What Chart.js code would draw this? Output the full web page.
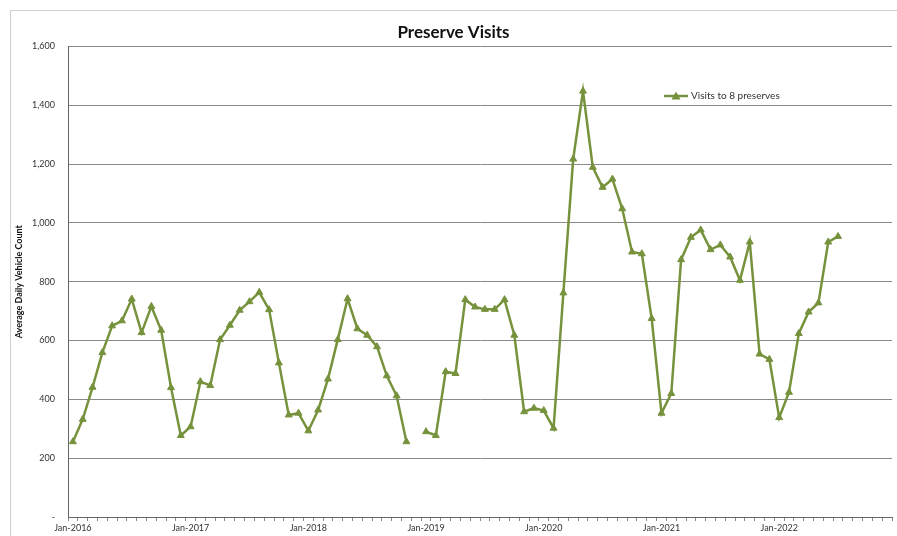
<!DOCTYPE html>
<html>
<head>
<meta charset="utf-8">
<script src="https://cdn.jsdelivr.net/npm/chart.js@4"></script>
<style>
    html, body { margin: 0; padding: 0; background: #fff; }
    #wrap { width: 897px; height: 536px; }
</style>
</head>
<body>
<div id="wrap"><canvas id="myChart" width="897" height="536"></canvas></div>
<script>
const years = [2016, 2017, 2018, 2019, 2020, 2021, 2022];
const monthNames = ["Jan", "Feb", "Mar", "Apr", "May", "Jun", "Jul", "Aug", "Sep", "Oct", "Nov", "Dec"];

// average daily vehicle count, one value per month (null = no data)
const visits2016 = [256, 332, 441, 559, 650, 667, 741, 627, 716, 635, 440, 277];
const visits2017 = [307, 460, 447, 603, 652, 703, 732, 764, 705, 524, 347, 353];
const visits2018 = [293, 364, 469, 603, 742, 640, 618, 579, 480, 412, 256, null];
const visits2019 = [290, 277, 494, 488, 739, 714, 706, 706, 739, 618, 358, 370];
const visits2020 = [362, 302, 762, 1217, 1448, 1189, 1121, 1149, 1048, 901, 895, 675];
const visits2021 = [353, 420, 875, 951, 976, 909, 925, 884, 805, 935, 554, 536];
const visits2022 = [338, 424, 624, 697, 728, 935, 954, null, null, null, null, null];

const yTicks = [0, 200, 400, 600, 800, 1000, 1200, 1400, 1600];

const labels = [];
years.forEach(y => monthNames.forEach(m => labels.push(m + "-" + y)));
const visits = [].concat(visits2016, visits2017, visits2018, visits2019, visits2020, visits2021, visits2022);

const olive = "#76923C";
const font = "Lato, 'Open Sans', sans-serif";

const frame = {
    id: "frame",
    beforeDraw(chart) {
        const c = chart.ctx;
        c.save();
        c.fillStyle = "#fff";
        c.fillRect(0, 0, chart.width, chart.height);
        c.strokeStyle = "#d0d0d0";
        c.lineWidth = 1;
        c.strokeRect(10.5, 10.5, chart.width, chart.height);
        c.restore();
    },
    afterDraw(chart) {
        // legend inside the plot area
        const c = chart.ctx;
        const ds = chart.data.datasets[0];
        const x = 664, y = 96;
        c.save();
        c.strokeStyle = ds.borderColor;
        c.lineWidth = 2.5;
        c.beginPath();
        c.moveTo(x, y);
        c.lineTo(x + 24, y);
        c.stroke();
        c.fillStyle = ds.borderColor;
        c.beginPath();
        c.moveTo(x + 12, y - 4.5);
        c.lineTo(x + 16.5, y + 3.5);
        c.lineTo(x + 7.5, y + 3.5);
        c.closePath();
        c.fill();
        c.fillStyle = "#333";
        c.font = "10px " + font;
        c.textBaseline = "middle";
        c.fillText(ds.label, x + 27, y);
        c.restore();
    },
};

const ctx = document.getElementById("myChart");

new Chart(ctx, {
    type: "line",
    data: {
        labels: labels,
        datasets: [
            {
                label: "Visits to 8 preserves",
                data: visits,
                borderColor: olive,
                backgroundColor: olive,
                borderWidth: 2.5,
                pointStyle: "triangle",
                pointRadius: 4,
                pointBorderWidth: 1,
                tension: 0,
                spanGaps: false,
            },
        ],
    },
    options: {
        responsive: false,
        animation: false,
        layout: { padding: { left: 10, right: 0, top: 0, bottom: 0 } },
        scales: {
            x: {
                type: "category",
                offset: true,
                grid: {
                    offset: true,
                    drawOnChartArea: false,
                    drawTicks: true,
                    tickLength: 4,
                    color: "#888",
                },
                border: { color: "#666", width: 1 },
                ticks: {
                    autoSkip: false,
                    maxRotation: 0,
                    padding: 2,
                    color: "#333",
                    font: { family: font, size: 9 },
                    callback: (v, i) => (i % 12 === 0 ? labels[i] : ""),
                },
                afterFit: s => { s.height = 19; },
            },
            y: {
                min: 0,
                max: 1600,
                afterBuildTicks: s => { s.ticks = yTicks.map(v => ({ value: v })); },
                grid: { color: "#8a8a8a", drawTicks: false, lineWidth: 1 },
                border: { color: "#666", width: 1 },
                ticks: {
                    padding: 13,
                    color: "#333",
                    font: { family: font, size: 9 },
                    callback: v => (v === 0 ? "-" : v.toLocaleString("en-US")),
                },
                title: {
                    display: true,
                    text: "Average Daily Vehicle Count",
                    color: "#111",
                    font: { family: font, size: 9, weight: "bold" },
                    padding: { top: 4, bottom: 0 },
                },
                afterFit: s => { s.width = 58; },
            },
        },
        plugins: {
            legend: { display: false },
            tooltip: { enabled: false },
            title: {
                display: true,
                text: "Preserve Visits",
                color: "#111",
                font: { family: font, size: 17, weight: "bold" },
                padding: { top: 22, bottom: 4 },
            },
        },
    },
    plugins: [frame],
});
</script>
</body>
</html>
